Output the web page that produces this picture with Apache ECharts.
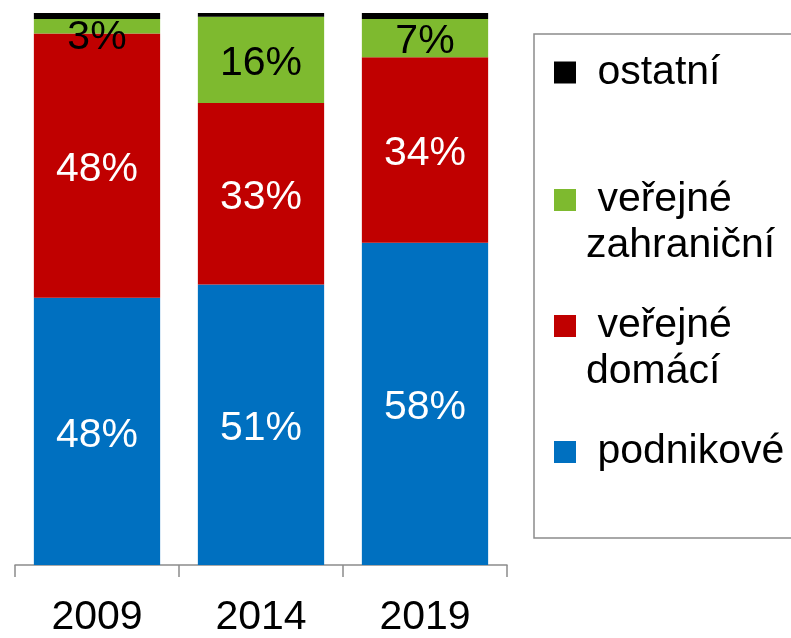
<!DOCTYPE html>
<html>
<head>
<meta charset="utf-8">
<script src="https://cdn.jsdelivr.net/npm/echarts@6/dist/echarts.min.js"></script>
<style>
  html, body { margin: 0; padding: 0; background: #fff; }
  #chart { width: 791px; height: 638px; }
</style>
</head>
<body>
<div id="chart"></div>
<script>
// roky
const categories = ['2009', '2014', '2019']
// podíly zdrojů financování (%)
const podnikove = [48.4, 50.8, 58.4]
const verejneDomaci = [47.9, 32.9, 33.6]
const verejneZahranicni = [2.6, 15.6, 6.9]
const ostatni = [1.1, 0.7, 1.1]

const FONT = '"Liberation Sans", Arial, sans-serif'

const chart = echarts.init(document.getElementById('chart'))

// popisek uvnitř sloupce
function barLabel(color) {
  return {
    show: true,
    position: 'inside',
    offset: [0, 4],
    color: color,
    fontSize: 41,
    fontFamily: FONT,
    formatter: p => Math.round(p.value) + '%'
  }
}

// jedna legenda pro každou položku; u dvouřádkových je nahoře prázdný řádek,
// takže značka vyjde u prvního řádku textu
function legendItem(name, text, markerY, lines) {
  return {
    data: [name],
    left: 554,
    top: markerY - lines * 23,
    padding: 0,
    itemWidth: 22,
    itemHeight: 22,
    icon: 'rect',
    selectedMode: false,
    formatter: () => text,
    textStyle: {
      fontSize: 41,
      fontFamily: FONT,
      color: '#000',
      lineHeight: 46,
      padding: [0, 0, 0, 5]
    }
  }
}

// 2009: popisek 3 % je posunutý dolů jako v originálu
const zahranicniData = verejneZahranicni.map((v, i) =>
  i === 0 ? { value: v, label: { offset: [0, 11] } } : v
)

chart.setOption({
  animation: false,
  grid: {
    left: 15,
    width: 492,
    top: 13,
    height: 555
  },
  legend: [
    legendItem('ostatní', ' ostatní', 72.5, 1),
    legendItem('veřejné zahraniční', '\n veřejné\nzahraniční', 200, 3),
    legendItem('veřejné domácí', '\n veřejné\ndomácí', 326, 3),
    legendItem('podnikové', ' podnikové', 452, 1)
  ],
  graphic: [{
    type: 'rect',
    shape: { x: 534, y: 34, width: 320, height: 504 },
    style: { fill: 'none', stroke: '#8c8c8c', lineWidth: 1.5 },
    silent: true
  }],
  xAxis: {
    type: 'category',
    data: categories,
    axisLine: { lineStyle: { color: '#8c8c8c', width: 1.5 } },
    axisTick: { show: true, length: 12, lineStyle: { color: '#8c8c8c', width: 1.5 } },
    axisLabel: {
      color: '#000',
      fontSize: 41,
      fontFamily: FONT,
      margin: 32
    }
  },
  yAxis: {
    type: 'value',
    min: 0,
    max: 100,
    show: false
  },
  series: [
    {
      name: 'podnikové',
      type: 'bar',
      stack: 'total',
      barWidth: '77%',
      data: podnikove,
      itemStyle: { color: '#0070C0' },
      label: barLabel('#fff')
    },
    {
      name: 'veřejné domácí',
      type: 'bar',
      stack: 'total',
      data: verejneDomaci,
      itemStyle: { color: '#C00000' },
      label: barLabel('#fff')
    },
    {
      name: 'veřejné zahraniční',
      type: 'bar',
      stack: 'total',
      data: zahranicniData,
      itemStyle: { color: '#7EBA2F' },
      label: barLabel('#000')
    },
    {
      name: 'ostatní',
      type: 'bar',
      stack: 'total',
      data: ostatni,
      itemStyle: { color: '#000' },
      label: { show: false }
    }
  ]
})
</script>
</body>
</html>
